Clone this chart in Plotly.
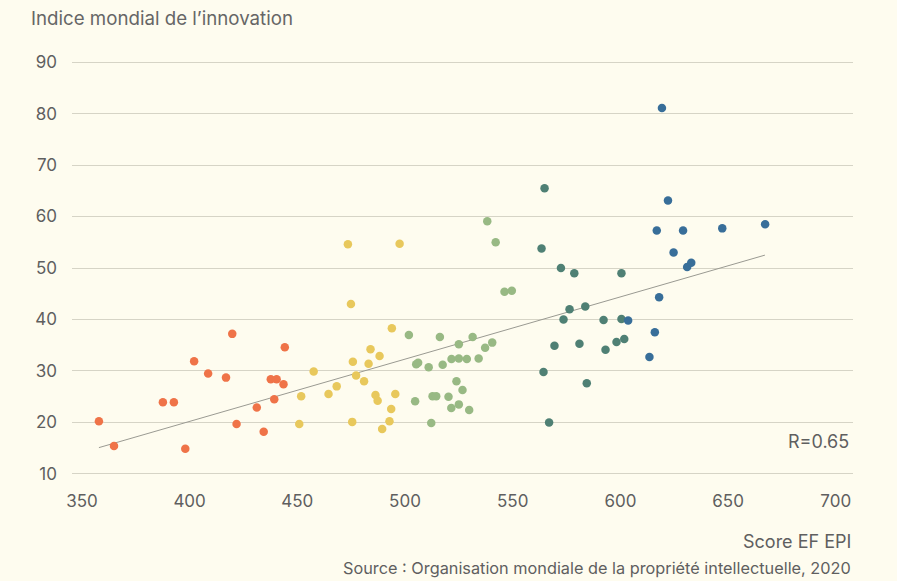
# Indice mondial de l'innovation vs score EF EPI
import plotly.graph_objects as go

# groupes de niveau EF EPI (lecture du graphique)
tres_faible_x = [357.9, 364.9, 387.6, 392.7, 398.0, 402.1, 408.6, 416.9, 419.8, 421.8,
                 431.2, 434.4, 437.7, 440.4, 439.3, 443.6, 444.2]
tres_faible_y = [20.2, 15.4, 23.9, 23.9, 14.9, 31.9, 29.5, 28.7, 37.2, 19.7,
                 22.9, 18.2, 28.4, 28.4, 24.5, 27.4, 34.6]

faible_x = [473.5, 497.5, 474.9, 493.9, 484.0, 488.2, 475.8, 483.1, 457.6, 477.3, 481.0,
            468.3, 464.5, 451.8, 486.3, 487.3, 495.5, 493.6, 450.9, 475.5, 492.8, 489.4]
faible_y = [54.6, 54.7, 43.0, 38.3, 34.2, 32.9, 31.8, 31.4, 29.9, 29.1, 28.0,
            27.0, 25.5, 25.1, 25.3, 24.2, 25.5, 22.6, 19.7, 20.1, 20.2, 18.7]

modere_x = [538.2, 542.1, 546.2, 549.6, 501.8, 516.2, 531.4, 525.0, 540.5, 537.2,
            505.2, 506.1, 511.0, 517.5, 521.6, 525.0, 528.7, 534.2, 523.9, 526.7,
            504.7, 512.8, 514.5, 520.2, 521.5, 525.0, 529.8, 512.2]
modere_y = [59.1, 55.0, 45.4, 45.6, 37.0, 36.6, 36.6, 35.2, 35.5, 34.5,
            31.3, 31.6, 30.7, 31.2, 32.3, 32.4, 32.3, 32.4, 28.0, 26.3,
            24.1, 25.1, 25.1, 25.0, 22.8, 23.5, 22.4, 19.9]

eleve_x = [564.8, 563.4, 572.4, 578.6, 600.5, 576.4, 583.7, 573.6, 592.2,
           600.5, 569.4, 581.0, 593.1, 598.2, 601.8, 564.3, 584.4, 566.9]
eleve_y = [65.5, 53.8, 50.0, 49.0, 49.0, 42.0, 42.5, 40.0, 39.9,
           40.1, 34.9, 35.3, 34.1, 35.6, 36.2, 29.8, 27.6, 20.0]

tres_eleve_x = [619.3, 622.1, 616.9, 629.1, 647.3, 667.2, 624.7, 631.0, 632.9,
                618.0, 603.6, 616.0, 613.5]
tres_eleve_y = [81.1, 63.1, 57.3, 57.3, 57.7, 58.5, 53.0, 50.2, 51.0,
                44.3, 39.8, 37.5, 32.7]

tendance_x = [357.9, 667.1]
tendance_y = [15.1, 52.5]

groupes = [
    (tres_faible_x, tres_faible_y, '#EF7348'),
    (faible_x, faible_y, '#E8C85C'),
    (modere_x, modere_y, '#98B984'),
    (eleve_x, eleve_y, '#4F8074'),
    (tres_eleve_x, tres_eleve_y, '#386E99'),
]

police = 'Inter, Roboto, sans-serif'
gris = '#5f5f5f'

fig = go.Figure()

fig.add_trace(go.Scatter(
    x=tendance_x, y=tendance_y, mode='lines',
    line={'color': '#9a9a92', 'width': 1},
    hoverinfo='skip', showlegend=False
))

for xs, ys, couleur in groupes:
    fig.add_trace(go.Scatter(
        x=xs, y=ys, mode='markers',
        marker={'color': couleur, 'size': 8.5, 'line': {'width': 0}},
        showlegend=False
    ))

# zone de tracé : de y=57 à y=479 px (422 px de haut)
fig.add_annotation(
    x=707, y=16.3, xref='x', yref='y', text='R=0.65', showarrow=False,
    xanchor='right', yanchor='middle', font={'size': 18, 'color': gris, 'family': police}
)
fig.add_annotation(
    x=1, y=(479 - 541) / 422, xref='paper', yref='paper', text='Score EF EPI',
    showarrow=False, xanchor='right', yanchor='middle',
    font={'size': 18, 'color': gris, 'family': police}
)
fig.add_annotation(
    x=1, y=(479 - 568) / 422, xref='paper', yref='paper',
    text='Source : Organisation mondiale de la propriété intellectuelle, 2020',
    showarrow=False, xanchor='right', yanchor='middle',
    font={'size': 16.3, 'color': gris, 'family': police}
)

fig.update_layout(
    width=897, height=581,
    margin={'l': 72, 'r': 44, 't': 57, 'b': 102},
    paper_bgcolor='#FEFCEF',
    plot_bgcolor='#FEFCEF',
    font={'family': police, 'color': gris, 'size': 17},
    title={
        'text': 'Indice mondial de l’innovation',
        'x': 31 / 897, 'xanchor': 'left', 'xref': 'container',
        'y': 1 - 18 / 581, 'yanchor': 'middle', 'yref': 'container',
        'font': {'size': 18.7, 'color': '#666666', 'family': police}
    },
    xaxis={
        'range': [345.4, 708], 'tickvals': [350, 400, 450, 500, 550, 600, 650, 700],
        'showgrid': False, 'zeroline': False, 'showline': False,
        'ticks': '', 'ticklabelstandoff': 10
    },
    yaxis={
        'range': [9, 91], 'tickvals': [10, 20, 30, 40, 50, 60, 70, 80, 90],
        'showgrid': True, 'gridcolor': '#D6D4C6', 'gridwidth': 1.3,
        'zeroline': False, 'showline': False,
        'ticks': '', 'ticklabelstandoff': 14
    },
)

fig.write_html("out.html", config={'displayModeBar': False},
               post_script="document.body.style.margin='0';")
